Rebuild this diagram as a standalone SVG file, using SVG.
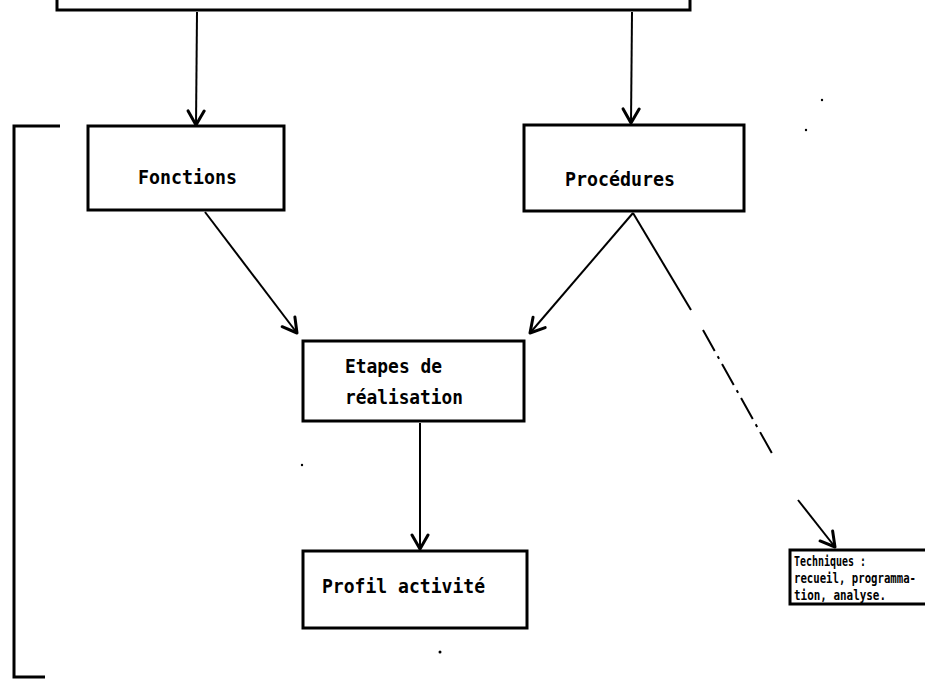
<svg xmlns="http://www.w3.org/2000/svg" width="925" height="679" viewBox="0 0 925 679">
<style>
.box{fill:none;stroke:#000;stroke-width:3;stroke-linejoin:miter}
.ln{fill:none;stroke:#000;stroke-width:2}
.t{font-family:"DejaVu Sans Mono","Liberation Mono",monospace;font-weight:bold;font-size:20px;fill:#000}
.s{font-family:"DejaVu Sans Mono","Liberation Mono",monospace;font-weight:bold;font-size:14px;fill:#000}
</style>
<defs>
<marker id="a" viewBox="-18 -12 20 24" markerWidth="20" markerHeight="24" refX="0" refY="0" orient="auto" markerUnits="userSpaceOnUse">
<path d="M-14,-8 L0,0 L-14,8" fill="none" stroke="#000" stroke-width="3" stroke-linecap="round" stroke-linejoin="round"/>
</marker>
</defs>
<g id="top">
<path class="box" d="M57,0 V10 H690 V0"/>
</g>
<g id="bracket">
<path class="box" d="M60,126 H14 V677 H45"/>
</g>
<g id="fonctions">
<rect class="box" x="88" y="126" width="196" height="84"/>
<text class="t" x="138" y="184" textLength="99" lengthAdjust="spacingAndGlyphs">Fonctions</text>
</g>
<g id="procedures">
<rect class="box" x="524" y="125" width="220" height="86"/>
<text class="t" x="565" y="186" textLength="110" lengthAdjust="spacingAndGlyphs">Procédures</text>
</g>
<g id="etapes">
<rect class="box" x="303" y="341" width="221" height="80"/>
<text class="t" x="345" y="373" textLength="97" lengthAdjust="spacingAndGlyphs">Etapes de</text>
<text class="t" x="345" y="404" textLength="118" lengthAdjust="spacingAndGlyphs">réalisation</text>
</g>
<g id="profil">
<rect class="box" x="303" y="551" width="224" height="77"/>
<text class="t" x="322" y="593" textLength="163" lengthAdjust="spacingAndGlyphs">Profil activité</text>
</g>
<g id="techniques">
<path class="box" d="M926,550 H790 V604 H926"/>
<text class="s" x="794" y="566" textLength="72" lengthAdjust="spacingAndGlyphs">Techniques :</text>
<text class="s" x="794" y="583" textLength="122" lengthAdjust="spacingAndGlyphs">recueil, programma-</text>
<text class="s" x="794" y="600" textLength="92" lengthAdjust="spacingAndGlyphs">tion, analyse.</text>
</g>
<g id="connectors">
<line class="ln" x1="197" y1="12" x2="196" y2="125" marker-end="url(#a)"/>
<line class="ln" x1="632" y1="12" x2="631" y2="123" marker-end="url(#a)"/>
<line class="ln" x1="205" y1="212" x2="297" y2="333" marker-end="url(#a)"/>
<line class="ln" x1="633" y1="213" x2="530" y2="333" marker-end="url(#a)"/>
<line class="ln" x1="420" y1="423" x2="420" y2="549" marker-end="url(#a)"/>
<path class="ln" d="M633,213 L691,310"/>
<path class="ln" d="M703,330 L774,457" stroke-dasharray="24,6,3,6"/>
<line class="ln" x1="798" y1="500" x2="835" y2="547" marker-end="url(#a)"/>
</g>
<g id="specks">
<circle cx="822" cy="100" r="1.2"/>
<circle cx="806" cy="130" r="1.2"/>
<circle cx="302" cy="465" r="1.2"/>
<circle cx="440" cy="652" r="1.5"/>
</g>
</svg>
